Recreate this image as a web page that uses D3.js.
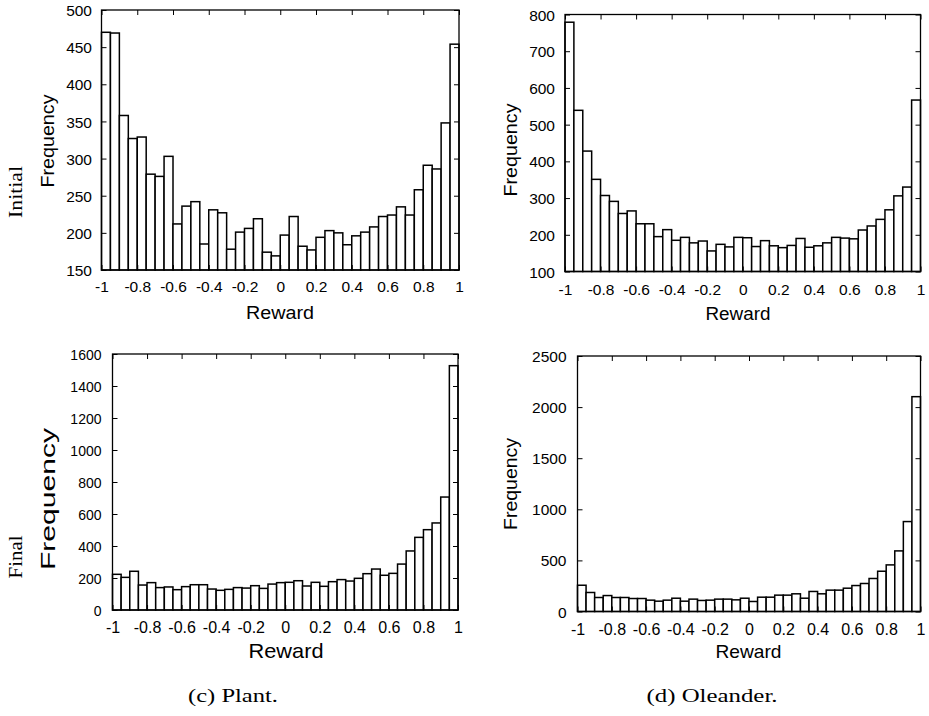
<!DOCTYPE html>
<html>
<head>
<meta charset="utf-8">
<script src="https://cdn.jsdelivr.net/npm/d3@7"></script>
<style>
  body { margin: 0; background: #fff; }
  svg text { fill: #000; }
</style>
</head>
<body>
<div id="chart"></div>
<script>
(function(d3) {
    'use strict';

    // Histogram counts, 40 bins of width 0.05 over [-1, 1]
    var initialPlant = [470, 469, 358, 327, 329, 279, 276, 303, 212, 236,
        242, 185, 231, 227, 178, 201, 206, 219, 174, 169,
        197, 222, 182, 177, 194, 203, 200, 184, 196, 201,
        208, 222, 224, 235, 224, 258, 291, 286, 348, 454];
    var initialOleander = [779, 539, 428, 351, 307, 291, 258, 265, 230, 230,
        195, 214, 185, 193, 178, 183, 156, 174, 167, 193,
        192, 168, 184, 170, 165, 171, 190, 166, 170, 178,
        193, 191, 189, 213, 224, 242, 268, 306, 330, 567];
    var finalPlant = [223, 204, 242, 156, 171, 140, 144, 127, 146, 158,
        158, 131, 123, 129, 140, 137, 152, 135, 162, 171,
        173, 183, 150, 173, 148, 177, 190, 181, 198, 227,
        256, 217, 229, 287, 369, 454, 502, 544, 706, 1527];
    var finalOleander = [257, 186, 137, 156, 137, 137, 127, 127, 111, 101,
        111, 130, 101, 121, 108, 111, 121, 121, 114, 130,
        98, 140, 140, 160, 160, 173, 130, 196, 173, 209,
        209, 228, 254, 274, 323, 394, 456, 593, 880, 2102];

    var binWidth = 0.05;
    var binStarts = d3.range(40).map(function(i) { return -1 + i * binWidth; });

    // Tick values / labels
    var xTickValues = [-1, -0.8, -0.6, -0.4, -0.2, 0, 0.2, 0.4, 0.6, 0.8, 1];
    var xTickLabels = ['-1', '-0.8', '-0.6', '-0.4', '-0.2', '0', '0.2', '0.4', '0.6', '0.8', '1'];
    var initialPlantTicks = [150, 200, 250, 300, 350, 400, 450, 500];
    var initialOleanderTicks = [100, 200, 300, 400, 500, 600, 700, 800];
    var finalPlantTicks = [0, 200, 400, 600, 800, 1000, 1200, 1400, 1600];
    var finalOleanderTicks = [0, 500, 1000, 1500, 2000, 2500];

    var sans = '"Liberation Sans", Arial, Helvetica, sans-serif';
    var serif = '"Liberation Serif", "Times New Roman", serif';

    var svg = d3.select('#chart')
        .append('svg')
        .attr('width', 929)
        .attr('height', 716);

    // Panel layout
    var panels = [
        { data: initialPlant, ticks: initialPlantTicks,
          x0: 101.5, x1: 459, y0: 10, y1: 270,
          yGap: 9.5, yFont: 15.5, xBase: 22, xFont: 15.5,
          freq: { x: 54, y: 141, len: 93, size: 19 },
          reward: { x: 280, y: 319, len: 68, size: 17.5 } },
        { data: initialOleander, ticks: initialOleanderTicks,
          x0: 565, x1: 920.5, y0: 14.5, y1: 271.5,
          yGap: 10, yFont: 15.5, xBase: 23, xFont: 15.5,
          freq: { x: 517, y: 150, len: 93, size: 19 },
          reward: { x: 738, y: 320, len: 65, size: 17.5 } },
        { data: finalPlant, ticks: finalPlantTicks,
          x0: 112.5, x1: 458, y0: 354, y1: 610,
          yGap: 11, yFont: 14, xBase: 23, xFont: 16,
          freq: { x: 55, y: 499, len: 142, size: 21 },
          reward: { x: 286, y: 658, len: 75, size: 21 } },
        { data: finalOleander, ticks: finalOleanderTicks,
          x0: 577.5, x1: 920.5, y0: 356, y1: 611.5,
          yGap: 11, yFont: 15.5, xBase: 23.5, xFont: 16,
          freq: { x: 517, y: 484, len: 92, size: 19 },
          reward: { x: 748.5, y: 658, len: 66, size: 18.5 } }
    ];

    panels.forEach(function(p) {
        var x = d3.scaleLinear().domain([-1, 1]).range([p.x0, p.x1]);
        var y = d3.scaleLinear()
            .domain([p.ticks[0], p.ticks[p.ticks.length - 1]])
            .range([p.y1, p.y0]);

        var g = svg.append('g');

        // Bars
        g.selectAll('rect.bar')
            .data(p.data)
            .enter()
            .append('rect')
            .attr('class', 'bar')
            .attr('x', function(d, i) { return x(binStarts[i]); })
            .attr('width', function(d, i) { return x(binStarts[i] + binWidth) - x(binStarts[i]); })
            .attr('y', function(d) { return y(d); })
            .attr('height', function(d) { return y.range()[0] - y(d); })
            .attr('fill', '#fff')
            .attr('stroke', '#000')
            .attr('stroke-width', 1.5);

        // Axes with inward ticks
        var bottom = g.append('g')
            .attr('transform', 'translate(0,' + p.y1 + ')')
            .call(d3.axisBottom(x)
                .tickValues(xTickValues)
                .tickFormat(function(d, i) { return xTickLabels[i]; })
                .tickSizeInner(-5).tickSizeOuter(0));
        bottom.selectAll('.tick text')
            .attr('y', p.xBase).attr('dy', 0)
            .style('font-size', p.xFont + 'px');

        var top = g.append('g')
            .attr('transform', 'translate(0,' + p.y0 + ')')
            .call(d3.axisTop(x).tickValues(xTickValues)
                .tickFormat('').tickSizeInner(-5).tickSizeOuter(0));

        var left = g.append('g')
            .attr('transform', 'translate(' + p.x0 + ',0)')
            .call(d3.axisLeft(y).tickValues(p.ticks)
                .tickFormat(d3.format('d'))
                .tickSizeInner(-5).tickSizeOuter(0));
        left.selectAll('.tick text')
            .attr('x', -p.yGap).attr('dy', '0.36em')
            .style('font-size', p.yFont + 'px');

        var right = g.append('g')
            .attr('transform', 'translate(' + p.x1 + ',0)')
            .call(d3.axisRight(y).tickValues(p.ticks)
                .tickFormat('').tickSizeInner(-5).tickSizeOuter(0));

        [bottom, top, left, right].forEach(function(a) {
            a.select('.domain').remove();
            a.selectAll('.tick line').attr('stroke', '#000').attr('stroke-width', 1);
            a.selectAll('.tick text').style('font-family', sans).attr('fill', '#000');
        });

        // Frame
        g.append('rect')
            .attr('x', p.x0).attr('y', p.y0)
            .attr('width', p.x1 - p.x0).attr('height', p.y1 - p.y0)
            .attr('fill', 'none').attr('stroke', '#000').attr('stroke-width', 1.3);

        // Axis titles
        g.append('text')
            .attr('transform', 'translate(' + p.freq.x + ',' + p.freq.y + ') rotate(-90)')
            .attr('text-anchor', 'middle')
            .attr('textLength', p.freq.len)
            .attr('lengthAdjust', 'spacingAndGlyphs')
            .style('font-family', sans)
            .style('font-size', p.freq.size + 'px')
            .text('Frequency');

        g.append('text')
            .attr('x', p.reward.x).attr('y', p.reward.y)
            .attr('text-anchor', 'middle')
            .attr('textLength', p.reward.len)
            .attr('lengthAdjust', 'spacingAndGlyphs')
            .style('font-family', sans)
            .style('font-size', p.reward.size + 'px')
            .text('Reward');
    });

    // Row labels
    var rows = [
        { text: 'Initial', x: 22, y: 192, len: 52 },
        { text: 'Final', x: 22, y: 557, len: 43 }
    ];
    svg.selectAll('text.row')
        .data(rows)
        .enter()
        .append('text')
        .attr('class', 'row')
        .attr('transform', function(d) { return 'translate(' + d.x + ',' + d.y + ') rotate(-90)'; })
        .attr('text-anchor', 'middle')
        .attr('textLength', function(d) { return d.len; })
        .attr('lengthAdjust', 'spacingAndGlyphs')
        .style('font-family', serif)
        .style('font-size', '18px')
        .text(function(d) { return d.text; });

    // Sub-figure captions
    var captions = [
        { text: '(c) Plant.', x: 233, len: 90 },
        { text: '(d) Oleander.', x: 712, len: 131 }
    ];
    svg.selectAll('text.caption')
        .data(captions)
        .enter()
        .append('text')
        .attr('class', 'caption')
        .attr('x', function(d) { return d.x; })
        .attr('y', 702)
        .attr('text-anchor', 'middle')
        .attr('textLength', function(d) { return d.len; })
        .attr('lengthAdjust', 'spacingAndGlyphs')
        .style('font-family', serif)
        .style('font-size', '18px')
        .text(function(d) { return d.text; });

})(window.d3);
</script>
</body>
</html>
